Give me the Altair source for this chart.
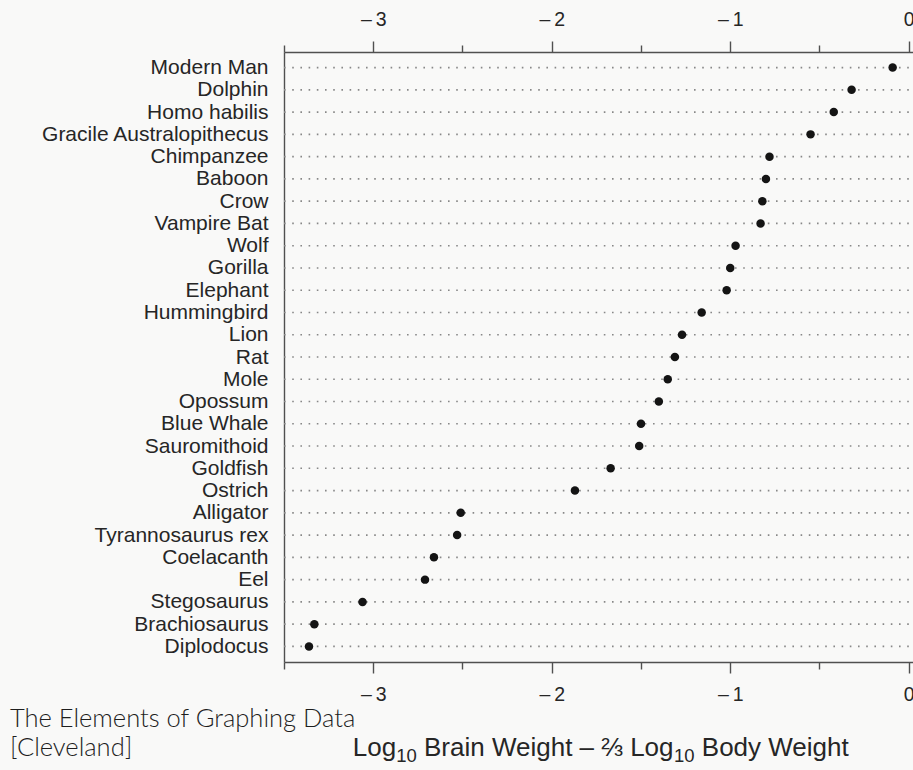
import altair as alt
import pandas as pd

# Brain-to-body index for each animal, top row first
animals = [
    "Modern Man", "Dolphin", "Homo habilis", "Gracile Australopithecus",
    "Chimpanzee", "Baboon", "Crow", "Vampire Bat", "Wolf", "Gorilla",
    "Elephant", "Hummingbird", "Lion", "Rat", "Mole", "Opossum",
    "Blue Whale", "Sauromithoid", "Goldfish", "Ostrich", "Alligator",
    "Tyrannosaurus rex", "Coelacanth", "Eel", "Stegosaurus",
    "Brachiosaurus", "Diplodocus",
]
index_values = [
    -0.09, -0.32, -0.42, -0.55,
    -0.78, -0.80, -0.82, -0.83, -0.97, -1.00,
    -1.02, -1.16, -1.27, -1.31, -1.35, -1.40,
    -1.50, -1.51, -1.67, -1.87, -2.51,
    -2.53, -2.66, -2.71, -3.06,
    -3.33, -3.36,
]
tick_values = [-3.5, -3, -2.5, -2, -1.5, -1, -0.5, 0]
x_domain = [-3.5, 0.024]
# axis title pieces: (text, is_subscript)
title_parts = [
    ("Log", False), ("10", True),
    ("Brain Weight \u2013 \u2154 Log", False), ("10", True),
    ("Body Weight", False),
]
caption = "The Elements of Graphing Data\n[Cleveland]"

W, H = 629, 610
LEFT, TOP, BOTTOM = 284, 52, 108
FONT = "Liberation Sans"
INK = "#262626"
FRAME = "#505050"

df = pd.DataFrame({"animal": animals, "value": index_values})

y_enc = alt.Y(
    "animal:N",
    sort=animals,
    scale=alt.Scale(type="point", padding=0.7),
    axis=alt.Axis(
        title=None, ticks=False, grid=False,
        domain=True, domainColor=FRAME, domainWidth=1.4,
        labelFont=FONT, labelFontSize=21, labelColor=INK,
        labelPadding=16, labelOverlap=False, labelLimit=0,
    ),
)

label_expr = (
    "datum.value % 1 != 0 ? '' : "
    "(datum.value == 0 ? '0' : '\u2013\u2009' + abs(datum.value))"
)


def x_axis(orient):
    return alt.Axis(
        orient=orient, values=tick_values, grid=False, title=None,
        domain=True, domainColor=FRAME, domainWidth=1.4,
        ticks=True, tickColor=FRAME, tickWidth=1.4,
        tickSize={"condition": {"test": "datum.value % 1 == 0", "value": 11},
                  "value": 7},
        labelExpr=label_expr, labelFont=FONT, labelFontSize=19.5,
        labelColor=INK, labelPadding=12, labelFlush=False,
        labelOverlap=False,
    )


x_scale = alt.Scale(domain=x_domain, nice=False, zero=False)

# dotted guide for every row, running from the left frame to the right edge
guides = alt.Chart(df).mark_rule(
    strokeDash=[1.6, 6.6], color="#888888", strokeWidth=1.6
).transform_calculate(
    xstart=str(x_domain[0])
).encode(
    y=y_enc,
    x=alt.X("xstart:Q", scale=x_scale, axis=x_axis("bottom")),
    x2=alt.value(W),
)

dots = alt.Chart(df).mark_circle(size=72, color="#141414", opacity=1).encode(
    y=y_enc,
    x=alt.X("value:Q", scale=x_scale, axis=x_axis("top")),
)

# axis title laid out piece by piece so the subscripts sit low and small
MAIN_FS, SUB_FS, SUB_DY = 26, 18.5, 6
EM = {"Log": 1.668, "10": 1.112,
      "Brain Weight \u2013 \u2154 Log": 9.616, "Body Weight": 5.669}
SPACE = 0.278
rows = []
pos = 0.0
for i, (txt, sub) in enumerate(title_parts):
    fs = SUB_FS if sub else MAIN_FS
    if i > 0 and not sub:
        pos += SPACE * MAIN_FS
    rows.append({"t": txt, "x0": pos, "fs": fs, "dy": SUB_DY if sub else 0})
    pos += EM[txt] * fs
title_center = 601 - LEFT
baseline = 756 - TOP
title_df = pd.DataFrame(rows)
title_df["px"] = title_df["x0"] + title_center - pos / 2
title_df["py"] = baseline + title_df["dy"]

axis_title = alt.Chart(title_df).mark_text(
    align="left", baseline="alphabetic", font=FONT, color=INK,
).encode(
    text="t:N",
    x=alt.X("px:Q", scale=None),
    y=alt.Y("py:Q", scale=None),
    size=alt.Size("fs:Q", scale=None, legend=None),
)

cap = alt.Chart(pd.DataFrame({"t": [caption]})).mark_text(
    align="left", baseline="alphabetic", lineBreak="\n", lineHeight=29,
    font="Lato", fontWeight=300, fontSize=25.5, color="#1e1e1e",
).encode(
    text="t:N",
    x=alt.value(10 - LEFT),
    y=alt.value(727 - TOP),
)

chart = alt.layer(guides, dots, axis_title, cap).resolve_axis(
    x="independent"
).resolve_scale(size="independent").properties(
    width=W, height=H,
    background="#f9f9f8",
    autosize=alt.AutoSizeParams(type="none"),
    padding={"left": LEFT, "top": TOP, "right": 0, "bottom": BOTTOM},
).configure_view(stroke=None)

chart.save("out.html", embed_options={"renderer": "svg", "actions": False})
